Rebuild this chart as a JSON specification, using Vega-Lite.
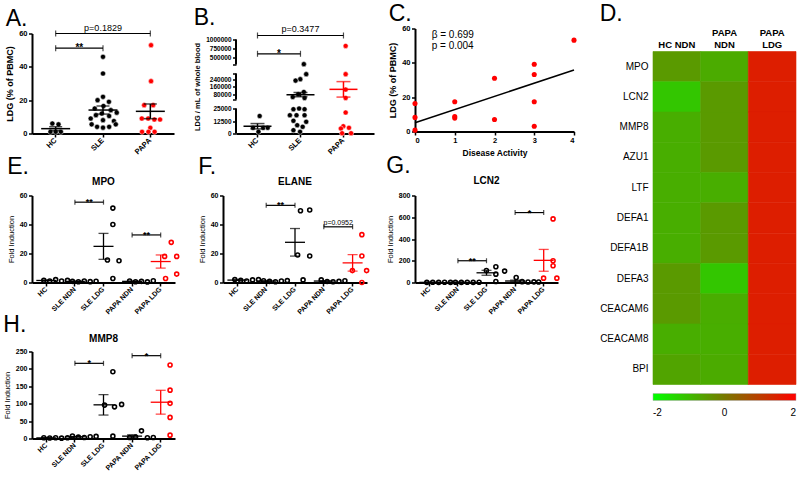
{
"$schema":"https://vega.github.io/schema/vega-lite/v6.json",
"padding":{"left":3,"top":2.5,"right":0,"bottom":0},
"background":"#ffffff",
"config":{
 "font":"Liberation Sans",
 "view":{"stroke":null},
 "axis":{"domainColor":"#000","domainWidth":2,"tickColor":"#000","tickWidth":1.5,"tickSize":3.5,"tickCount":20,"labelColor":"#000","labelFont":"Liberation Sans","labelFontWeight":"bold","labelFontSize":7.5,"labelPadding":1.5,"labelOverlap":false,"titleFont":"Liberation Sans","titleFontSize":8,"titleFontWeight":"bold","titleColor":"#000","titlePadding":4,"grid":false},
 "title":{"fontSize":23,"fontWeight":"normal","anchor":"start","font":"Liberation Sans","color":"#000"}
},
"resolve":{"scale":{"color":"independent"},"legend":{"color":"independent"}},
"datasets":{
 "a":[
  {"g":"HC","v":6,"s":-1.4},{"g":"HC","v":5.5,"s":1.2},{"g":"HC","v":1,"s":-2.2},{"g":"HC","v":1,"s":0},{"g":"HC","v":1,"s":2.2},
  {"g":"SLE","v":46,"s":0},{"g":"SLE","v":36,"s":0},{"g":"SLE","v":22,"s":0},{"g":"SLE","v":20,"s":-2.3},{"g":"SLE","v":19,"s":2.5},
  {"g":"SLE","v":16.5,"s":0.2},{"g":"SLE","v":15,"s":-3.5},{"g":"SLE","v":14,"s":3.3},{"g":"SLE","v":12,"s":-0.5},{"g":"SLE","v":11,"s":-3},
  {"g":"SLE","v":10.5,"s":2.6},{"g":"SLE","v":9,"s":-5.2},{"g":"SLE","v":8,"s":0},{"g":"SLE","v":7.5,"s":4.6},{"g":"SLE","v":5.5,"s":-4.8},
  {"g":"SLE","v":5.5,"s":5.4},{"g":"SLE","v":4,"s":-2.5},{"g":"SLE","v":3.5,"s":0},{"g":"SLE","v":4,"s":2.6},{"g":"SLE","v":12.5,"s":5.8},
  {"g":"PAPA","v":53,"s":0.3},{"g":"PAPA","v":31.4,"s":0.3},{"g":"PAPA","v":17,"s":-2.6},{"g":"PAPA","v":17,"s":1.2},{"g":"PAPA","v":9,"s":-3.6},
  {"g":"PAPA","v":9,"s":-0.9},{"g":"PAPA","v":8.4,"s":1.7},{"g":"PAPA","v":8.4,"s":4.1},{"g":"PAPA","v":3.4,"s":0},{"g":"PAPA","v":1,"s":-3.5},
  {"g":"PAPA","v":1,"s":-0.8},{"g":"PAPA","v":1,"s":1.8}
 ],
 "ab":[{"x1":"HC","x2":"SLE","y":51.2,"t":"**"},{"x1":"HC","x2":"PAPA","mid":"SLE","y":60,"t":"p=0.1829"}],
 "b":[
  {"g":"HC","v":17500,"s":0},{"g":"HC","v":5700,"s":-2.8},{"g":"HC","v":1700,"s":-0.5},{"g":"HC","v":5700,"s":1.5},{"g":"HC","v":5700,"s":3.4},
  {"g":"SLE","v":310000,"s":0.5},{"g":"SLE","v":293000,"s":1.5},{"g":"SLE","v":240000,"s":-1},{"g":"SLE","v":225000,"s":-3},{"g":"SLE","v":105000,"s":0.5},
  {"g":"SLE","v":80000,"s":-1.9},{"g":"SLE","v":41000,"s":0.8},{"g":"SLE","v":51500,"s":-4.2},{"g":"SLE","v":25000,"s":-1.5},{"g":"SLE","v":24300,"s":-3.9},
  {"g":"SLE","v":24300,"s":0.8},{"g":"SLE","v":18300,"s":-2.6},{"g":"SLE","v":18300,"s":-5.4},{"g":"SLE","v":18300,"s":0.8},{"g":"SLE","v":12700,"s":-3.9},
  {"g":"SLE","v":11700,"s":1.5},{"g":"SLE","v":8300,"s":-2.3},{"g":"SLE","v":6700,"s":0},{"g":"SLE","v":3300,"s":-3.9},{"g":"SLE","v":1700,"s":-1.1},
  {"g":"PAPA","v":820000,"s":0},{"g":"PAPA","v":293000,"s":0},{"g":"PAPA","v":130000,"s":0},{"g":"PAPA","v":41000,"s":0},{"g":"PAPA","v":21000,"s":0},
  {"g":"PAPA","v":7300,"s":-1},{"g":"PAPA","v":5700,"s":1.4},{"g":"PAPA","v":5000,"s":-2},{"g":"PAPA","v":300,"s":-1.5},{"g":"PAPA","v":300,"s":2.3}
 ],
 "bb":[{"x1":"HC","x2":"SLE","y":600000,"t":"*"},{"x1":"HC","x2":"PAPA","mid":"SLE","y":1112000,"t":"p=0.3477"}],
 "bseg":[{"lo":0,"hi":25000},{"lo":25001,"hi":300000},{"lo":300001,"hi":1000000}],
 "c":[{"x":0,"y":16.3},{"x":0,"y":8.2},{"x":0,"y":0.8},{"x":1,"y":17.3},{"x":1,"y":8.7},{"x":1,"y":7.8},{"x":2,"y":31},{"x":2,"y":7},{"x":3,"y":39.2},{"x":3,"y":33.2},{"x":3,"y":17.3},{"x":3,"y":3.1},{"x":4,"y":53.2}],
 "d":[
  {"gene":"MPO","col":"HC NDN","val":-0.5},{"gene":"LCN2","col":"HC NDN","val":-1.15},{"gene":"MMP8","col":"HC NDN","val":-0.8},{"gene":"AZU1","col":"HC NDN","val":-0.8},
  {"gene":"LTF","col":"HC NDN","val":-0.8},{"gene":"DEFA1","col":"HC NDN","val":-0.8},{"gene":"DEFA1B","col":"HC NDN","val":-0.8},{"gene":"DEFA3","col":"HC NDN","val":-0.5},
  {"gene":"CEACAM6","col":"HC NDN","val":-0.5},{"gene":"CEACAM8","col":"HC NDN","val":-0.8},{"gene":"BPI","col":"HC NDN","val":-0.65},
  {"gene":"MPO","col":"PAPA NDN","val":-0.75},{"gene":"LCN2","col":"PAPA NDN","val":-0.5},{"gene":"MMP8","col":"PAPA NDN","val":-0.5},{"gene":"AZU1","col":"PAPA NDN","val":-0.5},
  {"gene":"LTF","col":"PAPA NDN","val":-0.8},{"gene":"DEFA1","col":"PAPA NDN","val":-0.5},{"gene":"DEFA1B","col":"PAPA NDN","val":-0.5},{"gene":"DEFA3","col":"PAPA NDN","val":-1.15},
  {"gene":"CEACAM6","col":"PAPA NDN","val":-0.78},{"gene":"CEACAM8","col":"PAPA NDN","val":-0.8},{"gene":"BPI","col":"PAPA NDN","val":-0.75},
  {"gene":"MPO","col":"PAPA LDG","val":1.5},{"gene":"LCN2","col":"PAPA LDG","val":1.5},{"gene":"MMP8","col":"PAPA LDG","val":1.5},{"gene":"AZU1","col":"PAPA LDG","val":1.5},
  {"gene":"LTF","col":"PAPA LDG","val":1.5},{"gene":"DEFA1","col":"PAPA LDG","val":1.5},{"gene":"DEFA1B","col":"PAPA LDG","val":1.5},{"gene":"DEFA3","col":"PAPA LDG","val":1.5},
  {"gene":"CEACAM6","col":"PAPA LDG","val":1.5},{"gene":"CEACAM8","col":"PAPA LDG","val":1.5},{"gene":"BPI","col":"PAPA LDG","val":1.5}
 ],
 "e":[
  {"g":"HC","v":1.5,"s":-5},{"g":"HC","v":1,"s":-2.5},{"g":"HC","v":2,"s":0},{"g":"HC","v":1,"s":2.5},{"g":"HC","v":1.5,"s":5},
  {"g":"SLE NDN","v":0.8,"s":-5},{"g":"SLE NDN","v":0.5,"s":-2.5},{"g":"SLE NDN","v":1,"s":0},{"g":"SLE NDN","v":0.6,"s":2.5},{"g":"SLE NDN","v":0.9,"s":5},
  {"g":"SLE LDG","v":51.3,"s":0},{"g":"SLE LDG","v":40,"s":0},{"g":"SLE LDG","v":15.5,"s":-2.3},{"g":"SLE LDG","v":15,"s":2.6},{"g":"SLE LDG","v":2.8,"s":0},
  {"g":"PAPA NDN","v":1,"s":-5},{"g":"PAPA NDN","v":0.5,"s":-2.5},{"g":"PAPA NDN","v":0.8,"s":0},{"g":"PAPA NDN","v":0.4,"s":2.5},{"g":"PAPA NDN","v":1.2,"s":5},
  {"g":"PAPA LDG","v":27.7,"s":0.5},{"g":"PAPA LDG","v":18,"s":-2.3},{"g":"PAPA LDG","v":18,"s":2.8},{"g":"PAPA LDG","v":5.8,"s":2.8},{"g":"PAPA LDG","v":2.8,"s":-1.9}
 ],
 "eb":[{"x1":"SLE NDN","x2":"SLE LDG","y":55.4,"t":"**"},{"x1":"PAPA NDN","x2":"PAPA LDG","y":32.8,"t":"**"}],
 "f":[
  {"g":"HC","v":2,"s":-5},{"g":"HC","v":1.5,"s":-2.5},{"g":"HC","v":1,"s":0},{"g":"HC","v":1.8,"s":2.5},{"g":"HC","v":2,"s":5},
  {"g":"SLE NDN","v":1.2,"s":-5},{"g":"SLE NDN","v":0.8,"s":-2.5},{"g":"SLE NDN","v":0.5,"s":0},{"g":"SLE NDN","v":1,"s":2.5},{"g":"SLE NDN","v":1.3,"s":5},
  {"g":"SLE LDG","v":49.5,"s":-1.6},{"g":"SLE LDG","v":50,"s":2.3},{"g":"SLE LDG","v":19,"s":-2.8},{"g":"SLE LDG","v":18.3,"s":2.3},{"g":"SLE LDG","v":1.8,"s":-0.5},
  {"g":"PAPA NDN","v":1.8,"s":-5},{"g":"PAPA NDN","v":0.7,"s":-2.5},{"g":"PAPA NDN","v":0.5,"s":0},{"g":"PAPA NDN","v":0.8,"s":2.5},{"g":"PAPA NDN","v":1.2,"s":5},
  {"g":"PAPA LDG","v":33,"s":0},{"g":"PAPA LDG","v":18.3,"s":0},{"g":"PAPA LDG","v":8.2,"s":-4},{"g":"PAPA LDG","v":8.2,"s":2},{"g":"PAPA LDG","v":0,"s":0}
 ],
 "fb":[{"x1":"SLE NDN","x2":"SLE LDG","y":53.2,"t":"**"},{"x1":"PAPA NDN","x2":"PAPA LDG","y":38.4,"t":"p=0.0952"}],
 "g":[
  {"g":"HC","v":1,"s":-5},{"g":"HC","v":2,"s":-2.5},{"g":"HC","v":1,"s":0},{"g":"HC","v":2,"s":2.5},{"g":"HC","v":1,"s":5},
  {"g":"SLE NDN","v":2,"s":-5},{"g":"SLE NDN","v":1,"s":-2.5},{"g":"SLE NDN","v":2,"s":0},{"g":"SLE NDN","v":1,"s":2.5},{"g":"SLE NDN","v":2,"s":5},
  {"g":"SLE LDG","v":145,"s":0},{"g":"SLE LDG","v":110,"s":-4},{"g":"SLE LDG","v":105,"s":3.7},{"g":"SLE LDG","v":77,"s":0},{"g":"SLE LDG","v":9,"s":0},
  {"g":"PAPA NDN","v":46,"s":-3.5},{"g":"PAPA NDN","v":8,"s":-1},{"g":"PAPA NDN","v":5,"s":1.5},{"g":"PAPA NDN","v":6,"s":4},{"g":"PAPA NDN","v":4,"s":6},
  {"g":"PAPA LDG","v":585,"s":0},{"g":"PAPA LDG","v":200,"s":0},{"g":"PAPA LDG","v":154,"s":0},{"g":"PAPA LDG","v":40,"s":-4},{"g":"PAPA LDG","v":40,"s":1.6}
 ],
 "gb":[{"x1":"SLE NDN","x2":"SLE LDG","y":200,"t":"**"},{"x1":"PAPA NDN","x2":"PAPA LDG","y":643,"t":"*"}],
 "h":[
  {"g":"HC","v":2,"s":-5},{"g":"HC","v":1.5,"s":-2.5},{"g":"HC","v":2,"s":0},{"g":"HC","v":1,"s":2.5},{"g":"HC","v":2,"s":5},
  {"g":"SLE NDN","v":7,"s":-5},{"g":"SLE NDN","v":4,"s":-2.5},{"g":"SLE NDN","v":3,"s":0},{"g":"SLE NDN","v":5,"s":2.5},{"g":"SLE NDN","v":6,"s":5},
  {"g":"SLE LDG","v":192,"s":0},{"g":"SLE LDG","v":96,"s":-3.5},{"g":"SLE LDG","v":91,"s":0.7},{"g":"SLE LDG","v":98,"s":3.7},{"g":"SLE LDG","v":6.7,"s":0},
  {"g":"PAPA NDN","v":22,"s":0},{"g":"PAPA NDN","v":3,"s":-5},{"g":"PAPA NDN","v":4,"s":-2.5},{"g":"PAPA NDN","v":2,"s":2.5},{"g":"PAPA NDN","v":3,"s":5},
  {"g":"PAPA LDG","v":211,"s":0},{"g":"PAPA LDG","v":139,"s":0},{"g":"PAPA LDG","v":101,"s":0},{"g":"PAPA LDG","v":60.6,"s":0},{"g":"PAPA LDG","v":9.6,"s":0}
 ],
 "hb":[{"x1":"SLE NDN","x2":"SLE LDG","y":216,"t":"*"},{"x1":"PAPA NDN","x2":"PAPA LDG","y":238,"t":"*"}]
},
"spacing":22,
"hconcat":[
 {"spacing":-2,"vconcat":[
  {"bounds":"flush","spacing":41,"hconcat":[
   {"width":163,"height":105,"title":{"text":"A.","offset":-7},"data":{"name":"a"},
    "layer":[
     {"mark":{"type":"circle","size":26,"opacity":1,"stroke":"#fff","strokeWidth":0.5},
      "encoding":{
       "x":{"field":"g","type":"nominal","scale":{"domain":["HC","SLE","PAPA"],"range":[0,142],"paddingInner":0,"paddingOuter":0},"axis":{"title":null,"labelAngle":-45,"labelAlign":"right","labelBaseline":"middle","labelPadding":2}},
       "xOffset":{"field":"s","type":"quantitative","scale":{"domain":[-10,10]}},
       "y":{"field":"v","type":"quantitative","title":"LDG (% of PBMC)","scale":{"domain":[0,60],"range":[105,5],"nice":false},"axis":{"values":[0,20,40,60],"tickCount":20,"titleFontSize":9}},
       "color":{"condition":{"test":"datum.g=='PAPA'","value":"#f00"},"value":"#000"}}},
     {"mark":{"type":"errorbar","extent":"stderr","color":"#000","rule":{"strokeWidth":1.5},"ticks":{"size":13,"thickness":1.5}},
      "encoding":{"x":{"field":"g","type":"nominal"},"y":{"field":"v","type":"quantitative","title":"LDG (% of PBMC)"}}},
     {"mark":{"type":"tick","color":"#000","size":29,"thickness":1.5},
      "encoding":{"x":{"field":"g","type":"nominal"},"y":{"field":"v","type":"quantitative","aggregate":"mean","title":"LDG (% of PBMC)"}}},
     {"data":{"name":"ab"},"mark":{"type":"rule","strokeWidth":1.2,"color":"#000"},"encoding":{"x":{"field":"x1","type":"nominal"},"x2":{"field":"x2"},"y":{"field":"y","type":"quantitative","title":"LDG (% of PBMC)"}}},
     {"data":{"name":"ab"},"mark":{"type":"tick","orient":"vertical","size":6,"thickness":1.2,"color":"#000"},"encoding":{"x":{"field":"x1","type":"nominal"},"y":{"field":"y","type":"quantitative","title":"LDG (% of PBMC)"}}},
     {"data":{"name":"ab"},"mark":{"type":"tick","orient":"vertical","size":6,"thickness":1.2,"color":"#000"},"encoding":{"x":{"field":"x2","type":"nominal"},"y":{"field":"y","type":"quantitative","title":"LDG (% of PBMC)"}}},
     {"data":{"name":"ab"},"transform":[{"filter":"indexof(datum.t,'*')==0"}],"mark":{"type":"text","fontSize":10,"fontWeight":"bold","baseline":"alphabetic","dy":3,"color":"#000"},"encoding":{"x":{"field":"x2","type":"nominal","bandPosition":0},"y":{"field":"y","type":"quantitative","title":"LDG (% of PBMC)"},"text":{"field":"t"}}},
     {"data":{"name":"ab"},"transform":[{"filter":"indexof(datum.t,'p')==0"}],"mark":{"type":"text","fontSize":9,"baseline":"alphabetic","dy":-3,"color":"#000"},"encoding":{"x":{"field":"mid","type":"nominal"},"y":{"field":"y","type":"quantitative","title":"LDG (% of PBMC)"},"text":{"field":"t"}}}
    ]},
   {"width":138,"height":105,"title":{"text":"B.","offset":-5},"data":{"name":"b"},
    "layer":[
     {"mark":{"type":"circle","size":26,"opacity":1,"stroke":"#fff","strokeWidth":0.5},
      "encoding":{
       "x":{"field":"g","type":"nominal","scale":{"domain":["HC","SLE","PAPA"],"paddingInner":0,"paddingOuter":0.105,"align":0},"axis":{"title":null,"labelAngle":-45,"labelAlign":"right","labelBaseline":"middle","labelPadding":2}},
       "xOffset":{"field":"s","type":"quantitative","scale":{"domain":[-10,10]}},
       "y":{"field":"v","type":"quantitative","title":"LDG / mL of whole blood","scale":{"domain":[0,25000,25001,300000,300001,1000000],"range":[105,80,71,45,36,11],"nice":false,"zero":false},
            "axis":{"titleFontSize":7.5,"labelFontSize":6.5,"domain":false,"tickCount":50,"labelOverlap":false,"format":"d","values":[0,12500,25000,25001,80000,160000,240000,300000,300001,500000,750000,1000000],"labelExpr":"(datum.value==25001||datum.value==300000||datum.value==300001)?'':datum.label"}},
       "color":{"condition":{"test":"datum.g=='PAPA'","value":"#f00"},"value":"#000"}}},
     {"data":{"name":"bseg"},"mark":{"type":"rule","strokeWidth":2,"color":"#000"},"encoding":{"x":{"datum":"HC","type":"nominal","bandPosition":0},"y":{"field":"lo","type":"quantitative","title":"LDG / mL of whole blood"},"y2":{"field":"hi"}}},
     {"mark":{"type":"errorbar","extent":"stderr","rule":{"strokeWidth":1.5},"ticks":{"size":14,"thickness":1.5}},
      "encoding":{"x":{"field":"g","type":"nominal"},"y":{"field":"v","type":"quantitative","title":"LDG / mL of whole blood"},"color":{"condition":{"test":"datum.g=='PAPA'","value":"#f00"},"value":"#000"}}},
     {"mark":{"type":"tick","size":28,"thickness":1.5},
      "encoding":{"x":{"field":"g","type":"nominal"},"y":{"field":"v","type":"quantitative","aggregate":"mean","title":"LDG / mL of whole blood"},"color":{"condition":{"test":"datum.g=='PAPA'","value":"#f00"},"value":"#000"}}},
     {"data":{"name":"bb"},"mark":{"type":"rule","strokeWidth":1.2,"color":"#000"},"encoding":{"x":{"field":"x1","type":"nominal"},"x2":{"field":"x2"},"y":{"field":"y","type":"quantitative","title":"LDG / mL of whole blood"}}},
     {"data":{"name":"bb"},"mark":{"type":"tick","orient":"vertical","size":6,"thickness":1.2,"color":"#000"},"encoding":{"x":{"field":"x1","type":"nominal"},"y":{"field":"y","type":"quantitative","title":"LDG / mL of whole blood"}}},
     {"data":{"name":"bb"},"mark":{"type":"tick","orient":"vertical","size":6,"thickness":1.2,"color":"#000"},"encoding":{"x":{"field":"x2","type":"nominal"},"y":{"field":"y","type":"quantitative","title":"LDG / mL of whole blood"}}},
     {"data":{"name":"bb"},"transform":[{"filter":"indexof(datum.t,'*')==0"}],"mark":{"type":"text","fontSize":10,"fontWeight":"bold","baseline":"alphabetic","dy":3,"color":"#000"},"encoding":{"x":{"field":"x2","type":"nominal","bandPosition":0},"y":{"field":"y","type":"quantitative","title":"LDG / mL of whole blood"},"text":{"field":"t"}}},
     {"data":{"name":"bb"},"transform":[{"filter":"indexof(datum.t,'p')==0"}],"mark":{"type":"text","fontSize":9,"baseline":"alphabetic","dy":-3,"color":"#000"},"encoding":{"x":{"field":"mid","type":"nominal"},"y":{"field":"y","type":"quantitative","title":"LDG / mL of whole blood"},"text":{"field":"t"}}}
    ]},
   {"width":159,"height":103,"title":{"text":"C.","offset":-1},"data":{"name":"c"},
    "layer":[
     {"mark":{"type":"circle","size":26,"opacity":1,"color":"#f00"},
      "encoding":{
       "x":{"field":"x","type":"quantitative","title":"Disease Activity","scale":{"domain":[0,4],"nice":false},"axis":{"values":[0,1,2,3,4],"tickCount":20,"format":"d","titleFontSize":8.5}},
       "y":{"field":"y","type":"quantitative","title":"LDG (% of PBMC)","scale":{"domain":[0,60],"nice":false},"axis":{"values":[0,20,40,60],"tickCount":20,"titleFontSize":9}}}},
     {"transform":[{"regression":"y","on":"x","extent":[0,4]}],"mark":{"type":"line","color":"#000","strokeWidth":1.5},
      "encoding":{"x":{"field":"x","type":"quantitative","title":"Disease Activity"},"y":{"field":"y","type":"quantitative","title":"LDG (% of PBMC)"}}},
     {"data":{"values":[{}]},"mark":{"type":"text","text":"β = 0.699","fontSize":10,"align":"left","baseline":"alphabetic","color":"#000"},"encoding":{"x":{"datum":0.42,"title":"Disease Activity"},"y":{"datum":54.7,"title":"LDG (% of PBMC)"}}},
     {"data":{"values":[{}]},"mark":{"type":"text","text":"p = 0.004","fontSize":10,"align":"left","baseline":"alphabetic","color":"#000"},"encoding":{"x":{"datum":0.42,"title":"Disease Activity"},"y":{"datum":48,"title":"LDG (% of PBMC)"}}}
    ]}
  ]},
  {"bounds":"flush","spacing":48,"hconcat":[
   {"width":143,"height":87,"title":{"text":"E.","offset":-2},"data":{"name":"e"},
    "layer":[
     {"mark":{"type":"point","filled":false,"size":16,"strokeWidth":1.6,"opacity":1},
      "encoding":{
       "x":{"field":"g","type":"nominal","scale":{"domain":["HC","SLE NDN","SLE LDG","PAPA NDN","PAPA LDG"],"paddingInner":0,"paddingOuter":0},"axis":{"title":null,"labelAngle":-45,"labelAlign":"right","labelBaseline":"middle","labelPadding":2,"labelFontSize":7}},
       "xOffset":{"field":"s","type":"quantitative","scale":{"domain":[-10,10]}},
       "y":{"field":"v","type":"quantitative","title":"Fold Induction","scale":{"domain":[0,60],"nice":false},"axis":{"titleFontWeight":"normal","titleFontSize":7.5,"labelFontSize":7,"tickCount":20,"values":[0,20,40,60]}},
       "color":{"condition":{"test":"datum.g=='PAPA LDG'","value":"#f00"},"value":"#000"}}},
     {"mark":{"type":"errorbar","extent":"stderr","rule":{"strokeWidth":1.3},"ticks":{"size":10,"thickness":1.3}},
      "encoding":{"x":{"field":"g","type":"nominal"},"y":{"field":"v","type":"quantitative","title":"Fold Induction"},"color":{"condition":{"test":"datum.g=='PAPA LDG'","value":"#f00"},"value":"#000"}}},
     {"mark":{"type":"tick","size":20,"thickness":1.3},
      "encoding":{"x":{"field":"g","type":"nominal"},"y":{"field":"v","type":"quantitative","aggregate":"mean","title":"Fold Induction"},"color":{"condition":{"test":"datum.g=='PAPA LDG'","value":"#f00"},"value":"#000"}}},
     {"data":{"name":"eb"},"mark":{"type":"rule","strokeWidth":1.2,"color":"#000"},"encoding":{"x":{"field":"x1","type":"nominal"},"x2":{"field":"x2"},"y":{"field":"y","type":"quantitative","title":"Fold Induction"}}},
     {"data":{"name":"eb"},"mark":{"type":"tick","orient":"vertical","size":5,"thickness":1.2,"color":"#000"},"encoding":{"x":{"field":"x1","type":"nominal"},"y":{"field":"y","type":"quantitative","title":"Fold Induction"}}},
     {"data":{"name":"eb"},"mark":{"type":"tick","orient":"vertical","size":5,"thickness":1.2,"color":"#000"},"encoding":{"x":{"field":"x2","type":"nominal"},"y":{"field":"y","type":"quantitative","title":"Fold Induction"}}},
     {"data":{"name":"eb"},"transform":[{"filter":"indexof(datum.t,'*')==0"}],"mark":{"type":"text","fontSize":9,"fontWeight":"bold","baseline":"alphabetic","dy":3,"color":"#000"},"encoding":{"x":{"field":"x2","type":"nominal","bandPosition":0},"y":{"field":"y","type":"quantitative","title":"Fold Induction"},"text":{"field":"t"}}},
     {"data":{"values":[{}]},"mark":{"type":"text","text":"MPO","fontSize":10,"fontWeight":"bold","baseline":"middle","color":"#000"},"encoding":{"x":{"datum":"SLE LDG","type":"nominal"},"y":{"datum":69,"type":"quantitative","title":"Fold Induction"}}}
    ]},
   {"width":144,"height":87,"title":{"text":"F.","offset":-2},"data":{"name":"f"},
    "layer":[
     {"mark":{"type":"point","filled":false,"size":16,"strokeWidth":1.6,"opacity":1},
      "encoding":{
       "x":{"field":"g","type":"nominal","scale":{"domain":["HC","SLE NDN","SLE LDG","PAPA NDN","PAPA LDG"],"paddingInner":0,"paddingOuter":0},"axis":{"title":null,"labelAngle":-45,"labelAlign":"right","labelBaseline":"middle","labelPadding":2,"labelFontSize":7}},
       "xOffset":{"field":"s","type":"quantitative","scale":{"domain":[-10,10]}},
       "y":{"field":"v","type":"quantitative","title":"Fold Induction","scale":{"domain":[0,60],"nice":false},"axis":{"titleFontWeight":"normal","titleFontSize":7.5,"labelFontSize":7,"tickCount":20,"values":[0,20,40,60]}},
       "color":{"condition":{"test":"datum.g=='PAPA LDG'","value":"#f00"},"value":"#000"}}},
     {"mark":{"type":"errorbar","extent":"stderr","rule":{"strokeWidth":1.3},"ticks":{"size":10,"thickness":1.3}},
      "encoding":{"x":{"field":"g","type":"nominal"},"y":{"field":"v","type":"quantitative","title":"Fold Induction"},"color":{"condition":{"test":"datum.g=='PAPA LDG'","value":"#f00"},"value":"#000"}}},
     {"mark":{"type":"tick","size":20,"thickness":1.3},
      "encoding":{"x":{"field":"g","type":"nominal"},"y":{"field":"v","type":"quantitative","aggregate":"mean","title":"Fold Induction"},"color":{"condition":{"test":"datum.g=='PAPA LDG'","value":"#f00"},"value":"#000"}}},
     {"data":{"name":"fb"},"mark":{"type":"rule","strokeWidth":1.2,"color":"#000"},"encoding":{"x":{"field":"x1","type":"nominal"},"x2":{"field":"x2"},"y":{"field":"y","type":"quantitative","title":"Fold Induction"}}},
     {"data":{"name":"fb"},"mark":{"type":"tick","orient":"vertical","size":5,"thickness":1.2,"color":"#000"},"encoding":{"x":{"field":"x1","type":"nominal"},"y":{"field":"y","type":"quantitative","title":"Fold Induction"}}},
     {"data":{"name":"fb"},"mark":{"type":"tick","orient":"vertical","size":5,"thickness":1.2,"color":"#000"},"encoding":{"x":{"field":"x2","type":"nominal"},"y":{"field":"y","type":"quantitative","title":"Fold Induction"}}},
     {"data":{"name":"fb"},"transform":[{"filter":"indexof(datum.t,'*')==0"}],"mark":{"type":"text","fontSize":9,"fontWeight":"bold","baseline":"alphabetic","dy":3,"color":"#000"},"encoding":{"x":{"field":"x2","type":"nominal","bandPosition":0},"y":{"field":"y","type":"quantitative","title":"Fold Induction"},"text":{"field":"t"}}},
     {"data":{"name":"fb"},"transform":[{"filter":"indexof(datum.t,'p')==0"}],"mark":{"type":"text","fontSize":7,"baseline":"alphabetic","dy":-2,"color":"#000"},"encoding":{"x":{"field":"x2","type":"nominal","bandPosition":0},"y":{"field":"y","type":"quantitative","title":"Fold Induction"},"text":{"field":"t"}}},
     {"data":{"values":[{}]},"mark":{"type":"text","text":"ELANE","fontSize":10,"fontWeight":"bold","baseline":"middle","color":"#000"},"encoding":{"x":{"datum":"SLE LDG","type":"nominal"},"y":{"datum":69,"type":"quantitative","title":"Fold Induction"}}}
    ]},
   {"width":143,"height":87,"title":{"text":"G.","offset":-2},"data":{"name":"g"},
    "layer":[
     {"mark":{"type":"point","filled":false,"size":16,"strokeWidth":1.6,"opacity":1},
      "encoding":{
       "x":{"field":"g","type":"nominal","scale":{"domain":["HC","SLE NDN","SLE LDG","PAPA NDN","PAPA LDG"],"paddingInner":0,"paddingOuter":0},"axis":{"title":null,"labelAngle":-45,"labelAlign":"right","labelBaseline":"middle","labelPadding":2,"labelFontSize":7}},
       "xOffset":{"field":"s","type":"quantitative","scale":{"domain":[-10,10]}},
       "y":{"field":"v","type":"quantitative","title":"Fold Induction","scale":{"domain":[0,800],"nice":false},"axis":{"titleFontWeight":"normal","titleFontSize":7.5,"labelFontSize":7,"tickCount":20,"values":[0,200,400,600,800]}},
       "color":{"condition":{"test":"datum.g=='PAPA LDG'","value":"#f00"},"value":"#000"}}},
     {"mark":{"type":"errorbar","extent":"stderr","rule":{"strokeWidth":1.3},"ticks":{"size":10,"thickness":1.3}},
      "encoding":{"x":{"field":"g","type":"nominal"},"y":{"field":"v","type":"quantitative","title":"Fold Induction"},"color":{"condition":{"test":"datum.g=='PAPA LDG'","value":"#f00"},"value":"#000"}}},
     {"mark":{"type":"tick","size":20,"thickness":1.3},
      "encoding":{"x":{"field":"g","type":"nominal"},"y":{"field":"v","type":"quantitative","aggregate":"mean","title":"Fold Induction"},"color":{"condition":{"test":"datum.g=='PAPA LDG'","value":"#f00"},"value":"#000"}}},
     {"data":{"name":"gb"},"mark":{"type":"rule","strokeWidth":1.2,"color":"#000"},"encoding":{"x":{"field":"x1","type":"nominal"},"x2":{"field":"x2"},"y":{"field":"y","type":"quantitative","title":"Fold Induction"}}},
     {"data":{"name":"gb"},"mark":{"type":"tick","orient":"vertical","size":5,"thickness":1.2,"color":"#000"},"encoding":{"x":{"field":"x1","type":"nominal"},"y":{"field":"y","type":"quantitative","title":"Fold Induction"}}},
     {"data":{"name":"gb"},"mark":{"type":"tick","orient":"vertical","size":5,"thickness":1.2,"color":"#000"},"encoding":{"x":{"field":"x2","type":"nominal"},"y":{"field":"y","type":"quantitative","title":"Fold Induction"}}},
     {"data":{"name":"gb"},"transform":[{"filter":"indexof(datum.t,'*')==0"}],"mark":{"type":"text","fontSize":9,"fontWeight":"bold","baseline":"alphabetic","dy":3,"color":"#000"},"encoding":{"x":{"field":"x2","type":"nominal","bandPosition":0},"y":{"field":"y","type":"quantitative","title":"Fold Induction"},"text":{"field":"t"}}},
     {"data":{"values":[{}]},"mark":{"type":"text","text":"LCN2","fontSize":10,"fontWeight":"bold","baseline":"middle","color":"#000"},"encoding":{"x":{"datum":"SLE LDG","type":"nominal"},"y":{"datum":929,"type":"quantitative","title":"Fold Induction"}}}
    ]}
  ]},
  {"width":143,"height":87,"title":{"text":"H.","offset":-3},"data":{"name":"h"},
    "layer":[
     {"mark":{"type":"point","filled":false,"size":16,"strokeWidth":1.6,"opacity":1},
      "encoding":{
       "x":{"field":"g","type":"nominal","scale":{"domain":["HC","SLE NDN","SLE LDG","PAPA NDN","PAPA LDG"],"paddingInner":0,"paddingOuter":0},"axis":{"title":null,"labelAngle":-45,"labelAlign":"right","labelBaseline":"middle","labelPadding":2,"labelFontSize":7}},
       "xOffset":{"field":"s","type":"quantitative","scale":{"domain":[-10,10]}},
       "y":{"field":"v","type":"quantitative","title":"Fold Induction","scale":{"domain":[0,250],"nice":false},"axis":{"titleFontWeight":"normal","titleFontSize":7.5,"labelFontSize":7,"tickCount":20,"values":[0,50,100,150,200,250]}},
       "color":{"condition":{"test":"datum.g=='PAPA LDG'","value":"#f00"},"value":"#000"}}},
     {"mark":{"type":"errorbar","extent":"stderr","rule":{"strokeWidth":1.3},"ticks":{"size":10,"thickness":1.3}},
      "encoding":{"x":{"field":"g","type":"nominal"},"y":{"field":"v","type":"quantitative","title":"Fold Induction"},"color":{"condition":{"test":"datum.g=='PAPA LDG'","value":"#f00"},"value":"#000"}}},
     {"mark":{"type":"tick","size":20,"thickness":1.3},
      "encoding":{"x":{"field":"g","type":"nominal"},"y":{"field":"v","type":"quantitative","aggregate":"mean","title":"Fold Induction"},"color":{"condition":{"test":"datum.g=='PAPA LDG'","value":"#f00"},"value":"#000"}}},
     {"data":{"name":"hb"},"mark":{"type":"rule","strokeWidth":1.2,"color":"#000"},"encoding":{"x":{"field":"x1","type":"nominal"},"x2":{"field":"x2"},"y":{"field":"y","type":"quantitative","title":"Fold Induction"}}},
     {"data":{"name":"hb"},"mark":{"type":"tick","orient":"vertical","size":5,"thickness":1.2,"color":"#000"},"encoding":{"x":{"field":"x1","type":"nominal"},"y":{"field":"y","type":"quantitative","title":"Fold Induction"}}},
     {"data":{"name":"hb"},"mark":{"type":"tick","orient":"vertical","size":5,"thickness":1.2,"color":"#000"},"encoding":{"x":{"field":"x2","type":"nominal"},"y":{"field":"y","type":"quantitative","title":"Fold Induction"}}},
     {"data":{"name":"hb"},"transform":[{"filter":"indexof(datum.t,'*')==0"}],"mark":{"type":"text","fontSize":9,"fontWeight":"bold","baseline":"alphabetic","dy":3,"color":"#000"},"encoding":{"x":{"field":"x2","type":"nominal","bandPosition":0},"y":{"field":"y","type":"quantitative","title":"Fold Induction"},"text":{"field":"t"}}},
     {"data":{"values":[{}]},"mark":{"type":"text","text":"MMP8","fontSize":10,"fontWeight":"bold","baseline":"middle","color":"#000"},"encoding":{"x":{"datum":"SLE LDG","type":"nominal"},"y":{"datum":287,"type":"quantitative","title":"Fold Induction"}}}
    ]}
 ]},
 {"width":143,"height":356,"title":{"text":"D.","offset":2},"data":{"name":"d"},
  "mark":{"type":"rect","strokeWidth":0.6},
  "encoding":{
   "x":{"field":"col","type":"nominal","title":null,"bandPosition":0,"scale":{"domain":["HC NDN","PAPA NDN","PAPA LDG"],"paddingInner":0,"paddingOuter":0},"axis":{"orient":"top","offset":-23,"domain":false,"ticks":false,"labelAngle":0,"labelAlign":"center","labelBaseline":"bottom","labelFontSize":9.5,"labelFontWeight":"bold","labelPadding":14,"labelLineHeight":12,"labelExpr":"datum.label=='HC NDN'?['','HC NDN']:split(datum.label,' ')"}},
   "x2":{"field":"col","bandPosition":1},
   "y":{"field":"gene","type":"nominal","title":null,"scale":{"domain":["MPO","LCN2","MMP8","AZU1","LTF","DEFA1","DEFA1B","DEFA3","CEACAM6","CEACAM8","BPI"],"range":[23,356],"paddingInner":0,"paddingOuter":0},"axis":{"domain":false,"ticks":false,"labelFontSize":10,"labelFontWeight":"normal","labelPadding":5}},
   "color":{"field":"val","type":"quantitative","scale":{"domain":[-2,0,2],"range":["#00ff00","#787800","#ff0000"],"interpolate":"rgb"},
     "legend":{"orient":"bottom","direction":"horizontal","title":null,"gradientLength":143,"gradientThickness":7,"values":[-2,0,2],"labelExpr":"replace(datum.label,'−','-')","labelFontSize":10,"labelColor":"#000","labelFont":"Liberation Sans","labelOffset":7,"offset":9,"gradientStrokeColor":"#aaa","gradientStrokeWidth":0.5}},
   "stroke":{"field":"val","type":"quantitative","scale":{"domain":[-2,0,2],"range":["#00ff00","#787800","#ff0000"],"interpolate":"rgb"},"legend":null}
  }}
]
}
